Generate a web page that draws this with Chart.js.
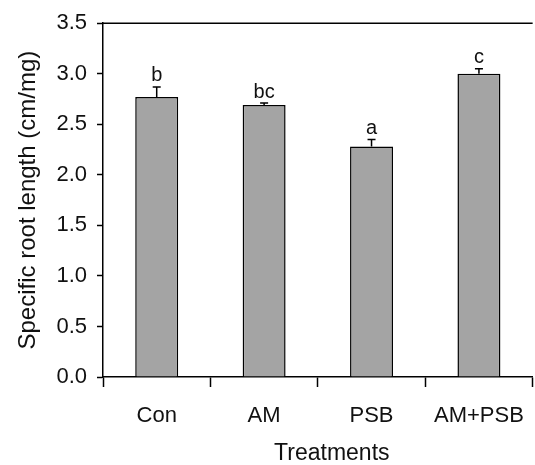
<!DOCTYPE html>
<html lang="en">
  <head>
    <meta charset="UTF-8" />
    <title>Specific root length</title>
    <script src="https://cdn.jsdelivr.net/npm/chart.js@4.4.0/dist/chart.umd.min.js"></script>
    <style>
      html,
      body {
        margin: 0;
        padding: 0;
        background-color: #ffffff;
        overflow: hidden;
      }

      .chart-container {
        width: 540px;
        height: 465px;
      }
    </style>
  </head>
  <body>
    <div class="chart-container">
      <canvas id="rootChart"></canvas>
    </div>

    <script>
      // data
      const treatments = ["Con", "AM", "PSB", "AM+PSB"];
      const srlValues = [2.77, 2.69, 2.28, 3.0];
      const srlErrors = [0.1, 0.02, 0.07, 0.05];
      const sigLetters = ["b", "bc", "a", "c"];
      const xTitle = "Treatments";

      const textColor = "#111111";
      const fontFamily = "'Liberation Sans', Arial, sans-serif";

      // upper error bars, significance letters, top frame line, x title
      const errorBarPlugin = {
        id: "errorBars",
        afterDatasetsDraw(chart) {
          const ctx = chart.ctx;
          const x = chart.scales.x;
          const y = chart.scales.y;
          const area = chart.chartArea;

          ctx.save();
          ctx.strokeStyle = "#000";
          ctx.lineWidth = 1.5;
          ctx.beginPath();
          ctx.moveTo(area.left, area.top);
          ctx.lineTo(area.right, area.top);
          ctx.stroke();

          treatments.forEach((t, i) => {
            const cx = x.getPixelForValue(i);
            const yTop = y.getPixelForValue(srlValues[i] + srlErrors[i]);
            const yBar = y.getPixelForValue(srlValues[i]);

            ctx.beginPath();
            ctx.moveTo(cx, yBar);
            ctx.lineTo(cx, yTop);
            ctx.moveTo(cx - 4, yTop);
            ctx.lineTo(cx + 4, yTop);
            ctx.stroke();

            ctx.fillStyle = textColor;
            ctx.font = "20px " + fontFamily;
            ctx.textAlign = "center";
            ctx.textBaseline = "bottom";
            ctx.fillText(sigLetters[i], cx, yTop - 1);
          });

          // axis title sits a little right of the plot centre in the original
          ctx.font = "23px " + fontFamily;
          ctx.textBaseline = "middle";
          ctx.fillText(xTitle, (area.left + area.right) / 2 + 14, chart.height - 11);
          ctx.restore();
        },
      };

      const ctx = document.getElementById("rootChart").getContext("2d");

      const rootChart = new Chart(ctx, {
        type: "bar",
        data: {
          labels: treatments,
          datasets: [
            {
              label: "Specific root length",
              data: srlValues,
              backgroundColor: "#a4a4a4",
              borderColor: "#000000",
              borderWidth: 1.5,
              barPercentage: 0.4,
              categoryPercentage: 1.0,
            },
          ],
        },
        options: {
          responsive: true,
          maintainAspectRatio: false,
          animation: false,
          layout: {
            padding: { top: 23, right: 1, bottom: 0, left: 0 },
          },
          plugins: {
            legend: { display: false },
            tooltip: { enabled: false },
          },
          scales: {
            x: {
              grid: {
                offset: true,
                drawOnChartArea: false,
                drawTicks: true,
                tickLength: 10,
                tickWidth: 1.5,
                tickColor: "#000",
              },
              border: { display: true, color: "#000", width: 1.5 },
              ticks: {
                color: textColor,
                padding: 16,
                font: { family: fontFamily, size: 22 },
                maxRotation: 0,
              },
              afterFit: (scale) => {
                scale.height = 88;
              },
            },
            y: {
              min: 0,
              max: 3.5,
              ticks: {
                stepSize: 0.5,
                color: textColor,
                padding: 10,
                font: { family: fontFamily, size: 22 },
                callback: (v) => Number(v).toFixed(1),
              },
              grid: {
                drawOnChartArea: false,
                drawTicks: true,
                tickLength: 6,
                tickWidth: 1.5,
                tickColor: "#000",
              },
              border: { display: true, color: "#000", width: 1.5 },
              title: {
                display: true,
                text: "Specific root length (cm/mg)",
                color: textColor,
                font: { family: fontFamily, size: 24, lineHeight: 1 },
                padding: { top: 16, bottom: 0 },
              },
              afterFit: (scale) => {
                scale.width = 103;
              },
            },
          },
        },
        plugins: [errorBarPlugin],
      });
    </script>
  </body>
</html>
